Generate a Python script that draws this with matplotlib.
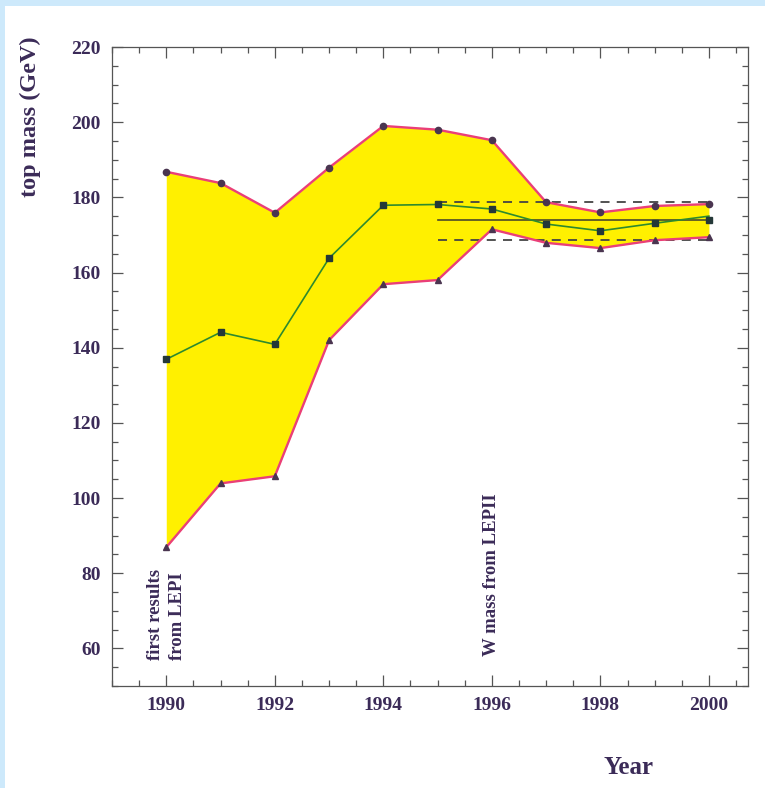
#!/usr/bin/env python3
"""Top mass estimates versus year, with allowed band."""

import matplotlib
matplotlib.use("Agg")
import matplotlib.pyplot as plt
from matplotlib.patches import Rectangle
from matplotlib.ticker import MultipleLocator

years = [1990, 1991, 1992, 1993, 1994, 1995, 1996, 1997, 1998, 1999, 2000]
upper = [186.8, 183.8, 175.9, 187.9, 199.0, 198.0, 195.2, 178.7, 176.0, 177.7, 178.2]
central = [136.9, 144.1, 140.9, 163.8, 177.9, 178.1, 176.9, 172.9, 171.1, 173.1, 175.0]
lower = [86.9, 103.9, 105.8, 142.0, 156.9, 158.0, 171.5, 167.9, 166.5, 168.6, 169.4]

avg_year = 2000
avg_mass = 173.9
avg_hi = 178.8
avg_lo = 168.6
avg_span = [1995, 2000]

notes = ["first results\nfrom LEPI", "W mass from LEPII"]
note_years = [1990, 1996]

txt = "#3b2b58"
pink = "#ea3f78"
plt.rcParams["font.family"] = ["Liberation Serif", "DejaVu Serif"]
plt.rcParams["font.weight"] = "bold"

fig = plt.figure(figsize=(7.65, 7.88), dpi=100)
fig.patch.set_facecolor("#cde9fb")
fig.patches.append(Rectangle((5 / 765, 0), 1, 1 - 6 / 788, transform=fig.transFigure,
                             facecolor="white", edgecolor="none", zorder=-10))
ax = fig.add_axes([112 / 765, 102 / 788, 636 / 765, 639 / 788])

ax.fill_between(years, lower, upper, color="#fff000", lw=0, zorder=1)
ax.plot(years, upper, color=pink, lw=1.7, zorder=3)
ax.plot(years, lower, color=pink, lw=1.7, zorder=3)
ax.plot(years, upper, "o", ms=4.5, color="#4a3550", zorder=4)
ax.plot(years, lower, "^", ms=4, color="#4a3550", zorder=4)

# world average band
ax.plot(avg_span, [avg_hi, avg_hi], "--", color="#444444", lw=1.3, dashes=(5, 4), zorder=2)
ax.plot(avg_span, [avg_lo, avg_lo], "--", color="#444444", lw=1.3, dashes=(5, 4), zorder=2)
ax.plot(avg_span, [avg_mass, avg_mass], color="#4a4a2a", lw=1.2, zorder=2)

ax.plot(years, central, color="#2e8a2e", lw=1.2, zorder=5)
ax.plot(years[:-1], central[:-1], "s", ms=4.5, color="#243838", zorder=6)
ax.plot([avg_year], [avg_mass], "s", ms=4.5, color="#243838", zorder=6)

ax.text(note_years[0], 56.8, notes[0], rotation=90, ha="center", va="bottom",
        multialignment="left", fontsize=13.5, color=txt, linespacing=1.35)
ax.text(note_years[1], 58, notes[1], rotation=90, ha="center", va="bottom",
        fontsize=13.5, color=txt)

ax.set_xlim(1989.0, 2000.72)
ax.set_ylim(50, 220)
ax.xaxis.set_major_locator(MultipleLocator(2))
ax.xaxis.set_minor_locator(MultipleLocator(0.5))
ax.yaxis.set_major_locator(MultipleLocator(20))
ax.yaxis.set_minor_locator(MultipleLocator(5))
ax.tick_params(which="both", direction="in", top=True, right=True, colors="#555555",
               labelcolor=txt, labelsize=14, width=0.9)
ax.tick_params(which="major", length=8, pad=8)
ax.tick_params(which="minor", length=4)
for s in ax.spines.values():
    s.set_color("#555555")
    s.set_linewidth(0.9)
ax.set_yticks(range(60, 221, 20))

fig.text(628 / 765, 1 - 768 / 788, "Year", ha="center", va="center", fontsize=18, color=txt)
fig.text(30 / 765, 1 - 117 / 788, "top mass (GeV)", ha="center", va="center", rotation=90,
         fontsize=17.5, color=txt)

fig.savefig("out.png", dpi=100)
